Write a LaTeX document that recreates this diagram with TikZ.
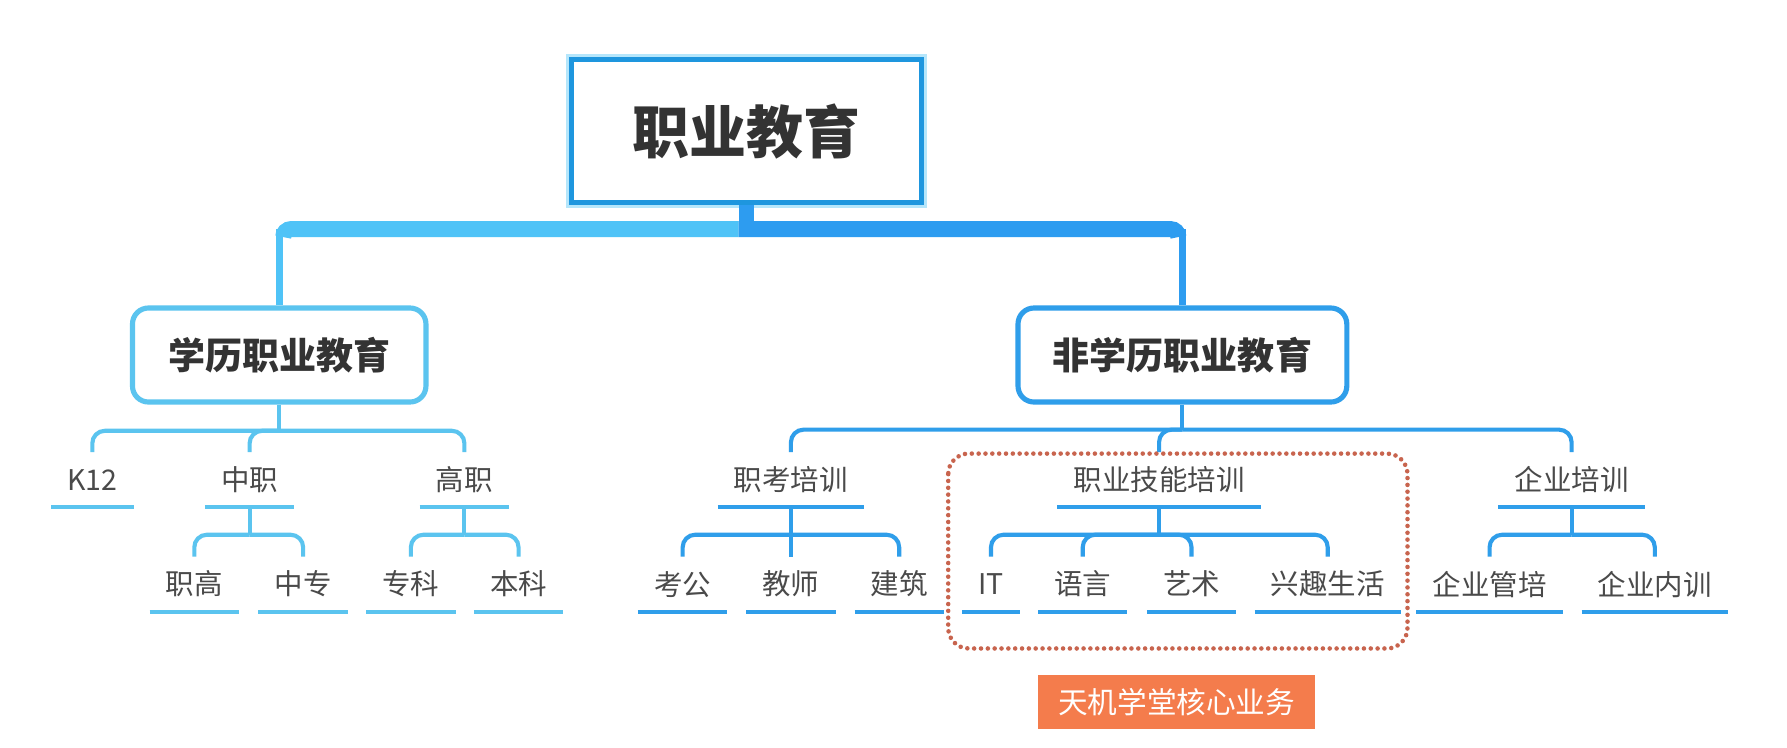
\documentclass[tikz,border=0pt]{standalone}
\usepackage{fontspec}
\setmainfont{Noto Sans CJK SC}
\usetikzlibrary{calc}
\definecolor{lightc}{HTML}{4FC3F7}
\definecolor{darkc}{HTML}{2D9CF0}
\definecolor{rootc}{HTML}{1E96DE}
\definecolor{glowc}{HTML}{B5E6FB}
\definecolor{lline}{HTML}{5BC4EF}
\definecolor{rline}{HTML}{2F9EEA}
\definecolor{txtc}{HTML}{333333}
\definecolor{leaftxt}{HTML}{4A4A4A}
\definecolor{dotc}{HTML}{C8644E}
\definecolor{orangec}{HTML}{F47C4C}
\begin{document}
\begin{tikzpicture}[x=1pt,y=-1pt,
  rootbox/.style={draw=rootc, line width=4.5pt, minimum width=307pt, minimum height=125pt, inner sep=0, font=\fontsize{50}{50}\selectfont\bfseries, text=txtc},
  catbox/.style={rounded corners=14pt, line width=4.5pt, minimum height=82.5pt, inner sep=0, font=\fontsize{32.5}{33}\selectfont\bfseries, text=txtc},
  leaf/.style={inner xsep=14pt, inner ysep=0, minimum height=48pt, font=\fontsize{25}{25}\selectfont, text=leaftxt},
  lconn/.style={draw=lline, line width=3.6pt},
  rconn/.style={draw=rline, line width=3.6pt},
  rnd/.style={rounded corners=11pt},
]
\useasboundingbox (0,0) rectangle (1568,655.5);
\fill[white] (0,0) rectangle (1568,655.5);

% top level
\node[rootbox] (root) at (655,115) {职业教育};
\draw[glowc, line width=2.5pt] ($(root.north west)+(-1.2,-1.2)$) rectangle ($(root.south east)+(1.2,1.2)$);
\node[catbox, draw=lline, minimum width=257.5pt] (xl) at (245,311.5) {学历职业教育};
\node[catbox, draw=rline, minimum width=288.5pt] (xr) at (1037.5,311.5) {非学历职业教育};

% level 1 leaves
\node[leaf] (k12) at (81,421) {K12};
\node[leaf] (zj) at (219,421) {中职};
\node[leaf] (gz) at (407.5,421) {高职};
\node[leaf] (zk) at (694,421) {职考培训};
\node[leaf] (zyjn) at (1017,421) {职业技能培训};
\node[leaf] (qy) at (1379,421) {企业培训};

% level 2 leaves
\node[leaf] (zg) at (170.5,512.5) {职高};
\node[leaf] (zz) at (266,512.5) {中专};
\node[leaf] (zkk) at (360.5,512.5) {专科};
\node[leaf] (bk) at (455,512.5) {本科};
\node[leaf] (kg) at (599,512.5) {考公};
\node[leaf] (js) at (694,512.5) {教师};
\node[leaf] (jz) at (789,512.5) {建筑};
\node[leaf] (it) at (869.5,512.5) {IT};
\node[leaf] (yy) at (950,512.5) {语言};
\node[leaf] (ys) at (1045.5,512.5) {艺术};
\node[leaf] (xq) at (1165,512.5) {兴趣生活};
\node[leaf] (qg) at (1307,512.5) {企业管培};
\node[leaf] (qn) at (1452,512.5) {企业内训};

% underlines
\foreach \n in {k12,zj,gz,zg,zz,zkk,bk}
  \draw[lconn] (\n.south west) -- (\n.south east);
\foreach \n in {zk,zyjn,qy,kg,js,jz,it,yy,ys,xq,qg,qn}
  \draw[rconn] (\n.south west) -- (\n.south east);

% main bar
\coordinate (barY) at (0,201);
\draw[lightc, line width=6pt] (xl.north) -- (xl.north |- barY);
\draw[darkc, line width=6pt] (xr.north) -- (xr.north |- barY);
\draw[lightc, line width=14pt, rounded corners=7pt]
  ($(xl.north |- barY)+(3.5,7)$) -- ($(xl.north |- barY)+(3.5,0)$) -- ($(root.south |- barY)+(-7,0)$);
\draw[darkc, line width=14pt, rounded corners=7pt]
  ($(root.south |- barY)+(-7,0)$) -- ($(xr.north |- barY)+(-3.5,0)$) -- ($(xr.north |- barY)+(-3.5,7)$);
\draw[darkc, line width=14pt] (root.south) -- ($(root.south |- barY)+(0,7)$);

% left subtree
\draw[lconn] (xl.south) -- ++(0,23) coordinate (xlb);
\draw[lconn, rnd] (xlb) -| (k12.north);
\draw[lconn, rnd] (xlb) -| (zj.north);
\draw[lconn, rnd] (xlb) -| (gz.north);
\draw[lconn] (zj.south) -- ++(0,24) coordinate (zjb);
\draw[lconn, rnd] (zjb) -| (zg.north);
\draw[lconn, rnd] (zjb) -| (zz.north);
\draw[lconn] (gz.south) -- ++(0,24) coordinate (gzb);
\draw[lconn, rnd] (gzb) -| (zkk.north);
\draw[lconn, rnd] (gzb) -| (bk.north);

% right subtree
\draw[rconn] (xr.south) -- ++(0,22) coordinate (xrb);
\draw[rconn, rnd] (xrb) -| (zk.north);
\draw[rconn, rnd] (xrb) -| (zyjn.north);
\draw[rconn, rnd] (xrb) -| (qy.north);
\draw[rconn] (zk.south) -- ++(0,24) coordinate (zkb);
\draw[rconn, rnd] (zkb) -| (kg.north);
\draw[rconn] (zkb) -- (zkb |- js.north);
\draw[rconn, rnd] (zkb) -| (jz.north);
\draw[rconn] (zyjn.south) -- ++(0,24) coordinate (zyb);
\draw[rconn, rnd] (zyb) -| (it.north);
\draw[rconn, rnd] (zyb) -| (yy.north);
\draw[rconn, rnd] (zyb) -| (ys.north);
\draw[rconn, rnd] (zyb) -| (xq.north);
\draw[rconn] (qy.south) -- ++(0,24) coordinate (qyb);
\draw[rconn, rnd] (qyb) -| (qg.north);
\draw[rconn, rnd] (qyb) -| (qn.north);

% core business highlight
\draw[dotc, line width=4pt, dash pattern=on 0pt off 6pt, line cap=round, rounded corners=18pt]
  (832,398) rectangle (1235,569);
\node[fill=orangec, minimum width=243pt, minimum height=48pt, inner sep=0, text=white,
  font=\fontsize{26}{26}\selectfont] (core) at (1032.5,616) {天机学堂核心业务};
\end{tikzpicture}
\end{document}
